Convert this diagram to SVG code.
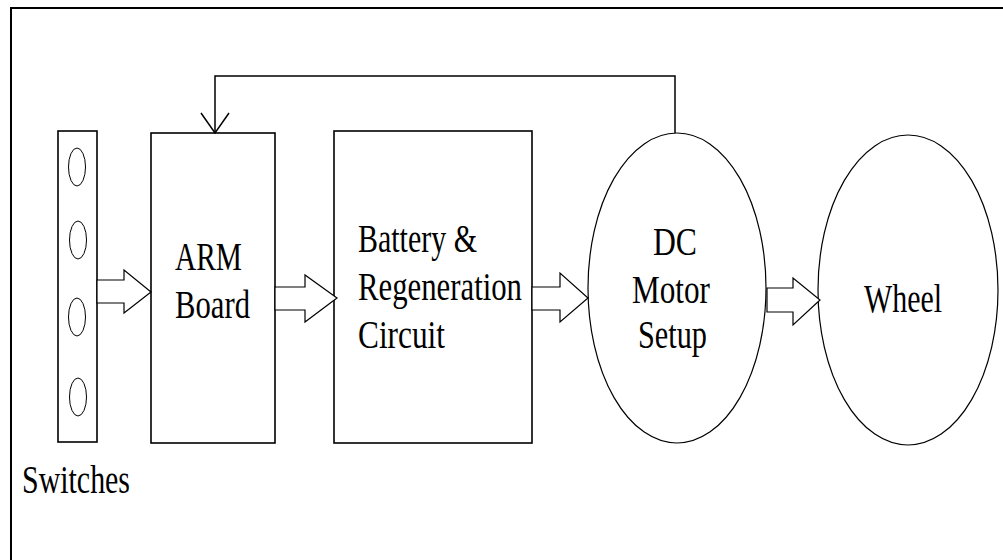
<svg xmlns="http://www.w3.org/2000/svg" width="1003" height="560" viewBox="0 0 1003 560">
<style>
.box{fill:#fff;stroke:#000;stroke-width:1.6}
.ell{fill:#fff;stroke:#000;stroke-width:1.2}
.sw{fill:none;stroke:#000;stroke-width:1}
.blk{fill:#fff;stroke:#000;stroke-width:1.2;stroke-linejoin:miter}
.ln{fill:none;stroke:#000;stroke-width:1.5}
text{font-family:"Liberation Serif","Times New Roman",serif;font-size:41px;fill:#000}
</style>
<rect width="1003" height="560" fill="#fff"/>
<rect x="11" y="8" width="1010" height="570" fill="none" stroke="#000" stroke-width="2"/>
<g id="switches">
<rect class="box" x="58" y="131" width="39" height="311"/>
<ellipse class="sw" cx="77" cy="167" rx="8.5" ry="19"/>
<ellipse class="sw" cx="78" cy="240" rx="8.5" ry="19"/>
<ellipse class="sw" cx="77" cy="317" rx="8.5" ry="19"/>
<ellipse class="sw" cx="78" cy="397" rx="8.5" ry="19"/>
<text x="22" y="493" textLength="108" lengthAdjust="spacingAndGlyphs">Switches</text>
</g>
<g id="arm">
<rect class="box" x="151" y="133" width="124" height="310"/>
<text x="175" y="270" textLength="67" lengthAdjust="spacingAndGlyphs">ARM</text>
<text x="175" y="318" textLength="75" lengthAdjust="spacingAndGlyphs">Board</text>
</g>
<g id="battery">
<rect class="box" x="334" y="131" width="198" height="312"/>
<text x="358" y="252" textLength="119" lengthAdjust="spacingAndGlyphs">Battery &amp;</text>
<text x="358" y="300" textLength="164" lengthAdjust="spacingAndGlyphs">Regeneration</text>
<text x="358" y="348" textLength="87" lengthAdjust="spacingAndGlyphs">Circuit</text>
</g>
<g id="dcmotor">
<ellipse class="ell" cx="677" cy="288" rx="89" ry="155"/>
<text x="653" y="255" textLength="44" lengthAdjust="spacingAndGlyphs">DC</text>
<text x="632" y="303" textLength="78" lengthAdjust="spacingAndGlyphs">Motor</text>
<text x="638" y="348" textLength="69" lengthAdjust="spacingAndGlyphs">Setup</text>
</g>
<g id="wheel">
<ellipse class="ell" cx="908" cy="290" rx="90" ry="155"/>
<text x="864" y="312" textLength="78" lengthAdjust="spacingAndGlyphs">Wheel</text>
</g>
<g id="connectors">
<polygon class="blk" points="97,280 124,280 124,270 151,292 124,313 124,303 97,303"/>
<polygon class="blk" points="275,287 305,287 305,275 337,298 305,322 305,310 275,310"/>
<polygon class="blk" points="532,287 560,287 560,273 588,298 560,322 560,310 532,310"/>
<polygon class="blk" points="767,288 793,288 793,278 820,300 793,325 793,312 767,312"/>
<polyline class="ln" points="675,133 675,76 215,76 215,133"/>
<polyline class="ln" points="201,113 215,133 229,113"/>
</g>
</svg>
